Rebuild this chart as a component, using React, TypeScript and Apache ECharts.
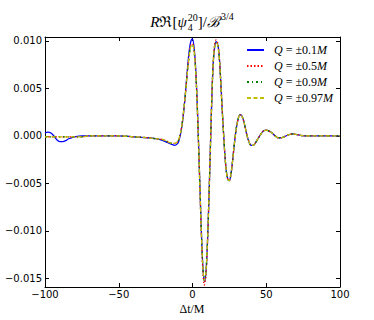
import React, { useEffect, useRef } from 'react';
import * as echarts from 'echarts';

// time axis (Δt/M)
const T = [-100, -98, -96, -94, -92, -90, -88, -86, -84, -82, -80, -75, -70, -60, -50, -40, -30, -25, -20, -17, -14, -12, -10, -9, -8, -7, -6, -5, -4, -3, -2, -1, 0, 1, 2, 3, 4, 5, 6, 7, 8, 9, 10, 11, 12, 13, 14, 15, 16, 17, 18, 19, 20, 21, 22, 23, 24, 25, 26, 27, 28, 29, 30, 31, 32, 33, 34, 35, 36, 37, 38, 39, 40, 41, 42, 44, 46, 48, 50, 52, 54, 56, 58, 60, 62, 65, 68, 72, 76, 80, 90, 100];

const Q01 = [0.0003, 0.0004, 0.0003, 0.0000, -0.0004, -0.0006, -0.0006, -0.0005, -0.0003, -0.0002, -0.0001, 0.0000, 0.0000, 0.0000, 0.0000, -0.0001, -0.0002, -0.0003, -0.0005, -0.0007, -0.0009, -0.0010, -0.0008, -0.0004, 0.0003, 0.0012, 0.0025, 0.0041, 0.0060, 0.0078, 0.0092, 0.0100, 0.0102, 0.0094, 0.0075, 0.0042, -0.0003, -0.0052, -0.0100, -0.0137, -0.0153, -0.0146, -0.0118, -0.0073, -0.0020, 0.0034, 0.0075, 0.0093, 0.0099, 0.0097, 0.0086, 0.0062, 0.0032, 0.0004, -0.0021, -0.0038, -0.0046, -0.0047, -0.0041, -0.0029, -0.0014, 0.0000, 0.0011, 0.0018, 0.0022, 0.0022, 0.0019, 0.0014, 0.0007, 0.0000, -0.0005, -0.0009, -0.0010, -0.0010, -0.0009, -0.0004, 0.0001, 0.0005, 0.0006, 0.0005, 0.0003, 0.0000, -0.0002, -0.0002, -0.0001, 0.0001, 0.0002, 0.0001, 0.0000, 0.0000, 0.0000, 0.0000];

const Q05 = [-0.0001, -0.0001, -0.0001, -0.0001, -0.0001, -0.0001, -0.0001, -0.0001, -0.0001, -0.0001, -0.0001, -0.0001, 0.0000, 0.0000, 0.0000, -0.0001, -0.0002, -0.0003, -0.0004, -0.0006, -0.0008, -0.0008, -0.0006, -0.0002, 0.0004, 0.0013, 0.0026, 0.0041, 0.0058, 0.0075, 0.0088, 0.0096, 0.0097, 0.0091, 0.0073, 0.0041, -0.0004, -0.0054, -0.0103, -0.0141, -0.0157, -0.0149, -0.0120, -0.0074, -0.0020, 0.0035, 0.0077, 0.0096, 0.0101, 0.0098, 0.0086, 0.0062, 0.0031, 0.0004, -0.0021, -0.0038, -0.0046, -0.0047, -0.0041, -0.0029, -0.0014, 0.0000, 0.0011, 0.0018, 0.0022, 0.0022, 0.0019, 0.0014, 0.0007, 0.0000, -0.0005, -0.0009, -0.0010, -0.0010, -0.0009, -0.0004, 0.0001, 0.0005, 0.0006, 0.0005, 0.0003, 0.0000, -0.0002, -0.0002, -0.0001, 0.0001, 0.0002, 0.0001, 0.0000, 0.0000, 0.0000, 0.0000];

const Q09 = [-0.0001, -0.0001, -0.0001, -0.0001, -0.0001, -0.0001, -0.0001, -0.0001, -0.0001, -0.0001, -0.0001, -0.0001, 0.0000, 0.0000, 0.0000, -0.0001, -0.0002, -0.0003, -0.0004, -0.0006, -0.0008, -0.0008, -0.0006, -0.0002, 0.0004, 0.0013, 0.0026, 0.0041, 0.0058, 0.0074, 0.0087, 0.0095, 0.0096, 0.0090, 0.0072, 0.0040, -0.0004, -0.0053, -0.0101, -0.0137, -0.0152, -0.0145, -0.0117, -0.0072, -0.0019, 0.0035, 0.0076, 0.0094, 0.0098, 0.0096, 0.0085, 0.0061, 0.0031, 0.0004, -0.0021, -0.0038, -0.0046, -0.0047, -0.0041, -0.0029, -0.0014, 0.0000, 0.0011, 0.0018, 0.0022, 0.0022, 0.0019, 0.0014, 0.0007, 0.0000, -0.0005, -0.0009, -0.0010, -0.0010, -0.0009, -0.0004, 0.0001, 0.0005, 0.0006, 0.0005, 0.0003, 0.0000, -0.0002, -0.0002, -0.0001, 0.0001, 0.0002, 0.0001, 0.0000, 0.0000, 0.0000, 0.0000];

const Q097 = [-0.0001, -0.0001, -0.0001, -0.0001, -0.0001, -0.0001, -0.0001, -0.0001, -0.0001, -0.0001, -0.0001, -0.0001, 0.0000, 0.0000, 0.0000, -0.0001, -0.0002, -0.0003, -0.0004, -0.0006, -0.0008, -0.0008, -0.0006, -0.0002, 0.0004, 0.0013, 0.0026, 0.0041, 0.0058, 0.0074, 0.0087, 0.0095, 0.0096, 0.0090, 0.0072, 0.0040, -0.0004, -0.0053, -0.0101, -0.0137, -0.0152, -0.0145, -0.0117, -0.0072, -0.0019, 0.0035, 0.0076, 0.0094, 0.0098, 0.0096, 0.0085, 0.0061, 0.0031, 0.0004, -0.0021, -0.0038, -0.0046, -0.0047, -0.0041, -0.0029, -0.0014, 0.0000, 0.0011, 0.0018, 0.0022, 0.0022, 0.0019, 0.0014, 0.0007, 0.0000, -0.0005, -0.0009, -0.0010, -0.0010, -0.0009, -0.0004, 0.0001, 0.0005, 0.0006, 0.0005, 0.0003, 0.0000, -0.0002, -0.0002, -0.0001, 0.0001, 0.0002, 0.0001, 0.0000, 0.0000, 0.0000, 0.0000];

const CHARGES = ['0.1', '0.5', '0.9', '0.97'];
const SERIES_VALUES = [Q01, Q05, Q09, Q097];
const COLORS = ['#0000ff', '#ff0000', '#008000', '#bfbf00'];
const DASHES: any[] = ['solid', [1.5, 2], [2, 3, 1, 3], [4, 2.5]];

const X_MIN = -100;
const X_MAX = 100;
const X_STEP = 50;
const Y_MIN = -0.0159;
const Y_MAX = 0.0104;

const SERIF = '"Liberation Serif", "DejaVu Serif", serif';
const SANS = '"DejaVu Sans", sans-serif';

function fmtY(v: number): string {
  if (Math.abs(v) < 1e-9) return '0.000';
  return (v < 0 ? '\u2212' : '') + Math.abs(v).toFixed(3);
}
function fmtX(v: number): string {
  return (v < 0 ? '\u2212' : '') + Math.abs(v);
}

function buildTitle(): any[] {
  const canvas = document.createElement('canvas');
  const ctx = canvas.getContext('2d') as CanvasRenderingContext2D;
  const measure = (t: string, size: number, italic: boolean) => {
    ctx.font = `${italic ? 'italic ' : ''}${size}px ${SERIF}`;
    return ctx.measureText(t).width;
  };
  const big = 15;
  const small = 10;
  type Part = { t: string; italic: boolean; kind: 'main' | 'sup' | 'stack'; sub?: string };
  const parts: Part[] = [
    { t: 'R', italic: true, kind: 'main' },
    { t: '\u211C', italic: false, kind: 'main' },
    { t: '[', italic: false, kind: 'main' },
    { t: '\u03C8', italic: true, kind: 'main' },
    { t: '20', italic: false, kind: 'stack', sub: '4' },
    { t: ']', italic: false, kind: 'main' },
    { t: '/', italic: false, kind: 'main' },
    { t: '\u212C', italic: true, kind: 'main' },
    { t: '3/4', italic: false, kind: 'sup' },
  ];
  const widths = parts.map((p) => {
    if (p.kind === 'main') return measure(p.t, big, p.italic);
    if (p.kind === 'sup') return measure(p.t, small, false) + 1;
    return Math.max(measure(p.t, small, false), measure(p.sub || '', small, false)) + 1;
  });
  const total = widths.reduce((a, b) => a + b, 0);
  let x = 192 - total / 2;
  const baseMain = 22;
  const els: any[] = [];
  parts.forEach((p, i) => {
    if (p.kind === 'main') {
      els.push({ type: 'text', x, y: baseMain, style: { text: p.t, font: `${p.italic ? 'italic ' : ''}${big}px ${SERIF}`, fill: '#000', align: 'left', verticalAlign: 'middle' } });
    } else if (p.kind === 'sup') {
      els.push({ type: 'text', x: x + 1, y: baseMain - 6, style: { text: p.t, font: `${small}px ${SERIF}`, fill: '#000', align: 'left', verticalAlign: 'middle' } });
    } else {
      els.push({ type: 'text', x: x + 1, y: baseMain - 5, style: { text: p.t, font: `${small}px ${SERIF}`, fill: '#000', align: 'left', verticalAlign: 'middle' } });
      els.push({ type: 'text', x: x + 1, y: baseMain + 5, style: { text: p.sub, font: `${small}px ${SERIF}`, fill: '#000', align: 'left', verticalAlign: 'middle' } });
    }
    x += widths[i];
  });
  return els;
}

export default function App() {
  const ref = useRef<HTMLDivElement>(null);
  useEffect(() => {
    if (!ref.current) return;
    const chart = echarts.init(ref.current, undefined, { renderer: 'svg' });
    const names = CHARGES.map((c) => `Q = \u00B1${c}M`);
    const series = SERIES_VALUES.map((vals, i) => ({
      name: names[i],
      type: 'line',
      data: T.map((t, j) => [t, vals[j]]),
      showSymbol: false,
      symbol: 'none',
      smooth: 0.3,
      lineStyle: { color: COLORS[i], width: 1.3, type: DASHES[i] },
      itemStyle: { color: COLORS[i] },
      z: 2 + i,
    }));
    const axisCommon = {
      axisLine: { show: true, onZero: false, lineStyle: { color: '#000', width: 1 } },
      axisTick: { show: true, inside: true, length: 4, lineStyle: { color: '#000' } },
      splitLine: { show: false },
    };
    chart.setOption({
      animation: false,
      grid: { left: 45, right: 34, top: 37, bottom: 33, containLabel: false },
      legend: {
        orient: 'vertical',
        left: 241,
        top: 39,
        itemWidth: 17,
        itemHeight: 10,
        itemGap: 4,
        data: names,
        itemStyle: { opacity: 0, borderWidth: 0 },
        formatter: (n: string) => {
          const idx = names.indexOf(n);
          return `{i|Q} = \u00B1${CHARGES[idx]}{i|M}`;
        },
        textStyle: {
          fontFamily: SERIF,
          fontSize: 12,
          lineHeight: 12,
          color: '#000',
          padding: [0, 0, 0, 5],
          rich: { i: { fontStyle: 'italic', fontFamily: SERIF, fontSize: 12, color: '#000' } },
        },
      },
      xAxis: [
        {
          type: 'value', min: X_MIN, max: X_MAX, interval: X_STEP, position: 'bottom',
          ...axisCommon,
          axisLabel: { color: '#000', fontSize: 10, fontFamily: SANS, margin: 2, formatter: fmtX, showMinLabel: true, showMaxLabel: true },
        },
        {
          type: 'value', min: X_MIN, max: X_MAX, interval: X_STEP, position: 'top',
          ...axisCommon,
          axisLabel: { show: false },
        },
      ],
      yAxis: [
        {
          type: 'value', min: Y_MIN, max: Y_MAX, splitNumber: 5, position: 'left',
          ...axisCommon,
          axisLabel: { color: '#000', fontSize: 10, fontFamily: SANS, margin: 3, formatter: fmtY, showMinLabel: false, showMaxLabel: false },
        },
        {
          type: 'value', min: Y_MIN, max: Y_MAX, splitNumber: 5, position: 'right',
          ...axisCommon,
          axisLabel: { show: false },
        },
      ],
      graphic: [
        ...buildTitle(),
        {
          type: 'text', x: 192, y: 309,
          style: { text: '\u0394t/M', font: `12px ${SERIF}`, fill: '#000', align: 'center', verticalAlign: 'middle' },
        },
      ],
      series,
    });
    return () => chart.dispose();
  }, []);
  return <div ref={ref} style={{ position: 'absolute', left: 0, top: 0, width: 374, height: 320 }} />;
}
